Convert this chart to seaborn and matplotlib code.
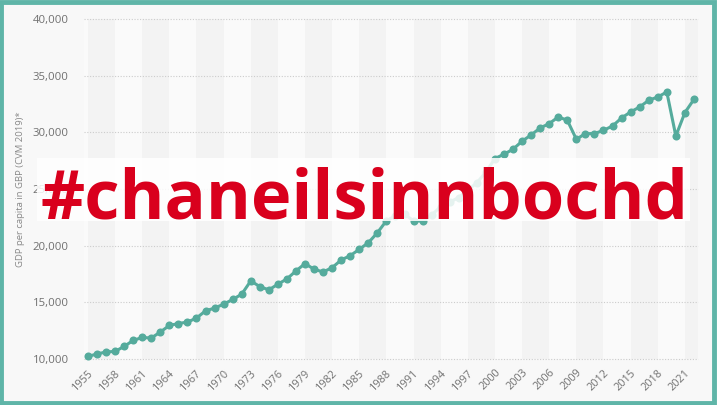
import matplotlib
matplotlib.use("Agg")
import matplotlib.pyplot as plt
import seaborn as sns
import pandas as pd
from matplotlib.patches import Rectangle

years = list(range(1955, 2023))
gdp_per_capita = [
    10230, 10440, 10620, 10670, 11110, 11640, 11900, 11850, 12380, 12960,
    13130, 13260, 13610, 14250, 14490, 14840, 15250, 15720, 16890, 16390,
    16100, 16600, 17070, 17770, 18420, 17920, 17680, 18060, 18740, 19120,
    19680, 20260, 21140, 22200, 22640, 22760, 22200, 22170, 22700, 23450,
    23850, 24250, 24900, 25550, 26500, 27690, 28070, 28510, 29220, 29770,
    30390, 30770, 31360, 31070, 29390, 29890, 29890, 30180, 30560, 31270,
    31800, 32240, 32830, 33120, 33560, 29680, 31740, 32910,
]
tick_years = list(range(1955, 2022, 3))
y_ticks = [10000, 15000, 20000, 25000, 30000, 35000, 40000]
y_label = "GDP per capita in GBP (CVM 2019)*"
overlay_text = "#chaneilsinnbochd"

df = pd.DataFrame({"year": years, "gdp": gdp_per_capita})

sns.set_style("white")
plt.rcParams["font.family"] = ["Open Sans", "DejaVu Sans"]

fig = plt.figure(figsize=(7.17, 4.05), dpi=100, facecolor="#f8f8f8")
ax = fig.add_axes([0.117, 0.1136, 0.8565, 0.8394])
ax.set_facecolor("#fafafa")

# alternating bands
for start in range(1955, 2023, 6):
    ax.axvspan(start, start + 3, color="#f3f3f3", zorder=0, lw=0)

for yv in y_ticks:
    ax.axhline(yv, color="#cccccc", lw=0.8, ls=(0, (1, 1.5)), zorder=1)

color = "#55ab9c"
sns.lineplot(data=df, x="year", y="gdp", ax=ax, color=color, lw=2.2,
             marker="o", markersize=5.8, markeredgewidth=0, zorder=3)
for ln in ax.lines:
    ln.set_clip_on(False)

ax.set_xlim(1954.55, 2022.45)
ax.set_ylim(10000, 40000)
ax.set_xticks(tick_years)
ax.set_xticklabels([str(y) for y in tick_years], rotation=45, ha="right",
                   rotation_mode="anchor", fontsize=7.8, color="#707070")
ax.set_yticks(y_ticks)
ax.set_yticklabels([f"{v:,}" for v in y_ticks], fontsize=8.2, color="#707070")
ax.tick_params(axis="x", length=0, pad=6)
ax.tick_params(axis="y", length=0, pad=11)
ax.set_xlabel("")
ax.set_ylabel(y_label, fontsize=6.8, color="#888888")
ax.yaxis.set_label_coords((25 - 84) / 614, 0.5)
for s in ax.spines.values():
    s.set_visible(False)

# overlay band + text
fig.patches.append(Rectangle((37 / 717, 1 - 221 / 405), (690 - 37) / 717, 63 / 405,
                             transform=fig.transFigure, facecolor="white",
                             alpha=0.85, edgecolor="none", zorder=5))
fig.text(364 / 717, 1 - 218 / 405, overlay_text, ha="center", va="baseline",
         fontsize=49.3, fontweight="bold", color="#d9001d", zorder=6)

# border
fig.patches.append(Rectangle((0.002, 0.004), 0.994, 0.99, transform=fig.transFigure,
                             facecolor="none", edgecolor="#5fb5a8", lw=3.5, zorder=10))

fig.savefig("out.png", dpi=100, facecolor=fig.get_facecolor())
